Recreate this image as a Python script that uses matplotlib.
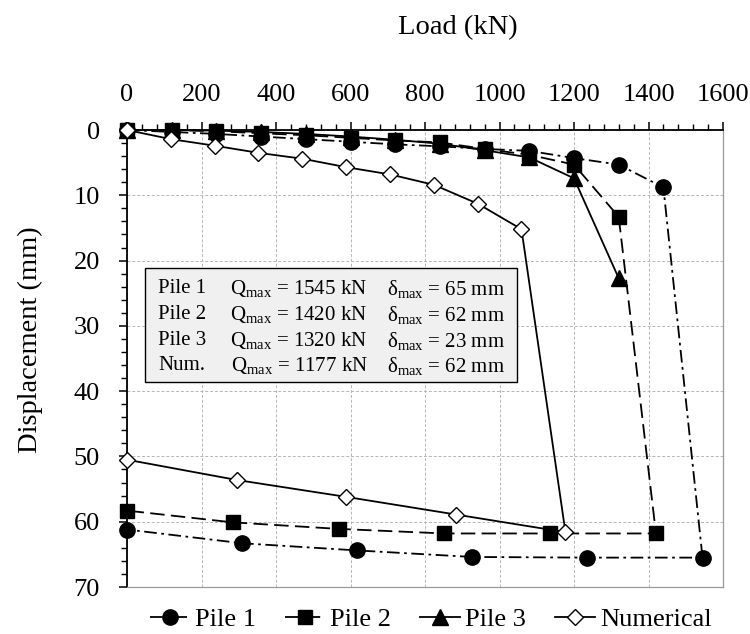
import numpy as np
import matplotlib
matplotlib.use("Agg")
import matplotlib.pyplot as plt
from matplotlib.ticker import MultipleLocator
from matplotlib.patches import Rectangle

plt.rcParams['font.family'] = ['Liberation Serif', 'DejaVu Serif']
plt.rcParams['mathtext.fontset'] = 'custom'
plt.rcParams['mathtext.rm'] = 'Liberation Serif'
plt.rcParams['mathtext.it'] = 'Liberation Serif:italic'

# load (kN) / displacement (mm)
pile1_load = [0, 120, 240, 360, 480, 600, 720, 840, 960, 1080, 1200, 1320, 1440, 1545,
              1236, 927, 618, 309, 0]
pile1_disp = [0, 0.3, 0.6, 1.0, 1.4, 1.8, 2.2, 2.5, 2.9, 3.2, 4.3, 5.3, 8.8, 65.5,
              65.5, 65.4, 64.4, 63.3, 61.2]

pile2_load = [0, 120, 240, 360, 480, 600, 720, 840, 960, 1080, 1200, 1320, 1420,
              1136, 852, 568, 284, 0]
pile2_disp = [0, 0, 0.2, 0.5, 0.8, 1.2, 1.6, 1.9, 2.9, 3.8, 5.3, 13.3, 61.8,
              61.8, 61.8, 61.1, 60.1, 58.3]

pile3_load = [0, 120, 240, 360, 480, 600, 720, 840, 960, 1080, 1200, 1320]
pile3_disp = [0, 0, 0.1, 0.3, 0.6, 1.0, 1.5, 2.1, 3.1, 4.2, 7.4, 22.7]

num_load = [0, 118, 235, 353, 471, 589, 706, 824, 942, 1059, 1177, 883, 589, 294, 0]
num_disp = [0, 1.4, 2.4, 3.5, 4.4, 5.7, 6.8, 8.4, 11.3, 15.2, 61.6, 58.9, 56.2, 53.6, 50.5]

box_names = ["Pile 1", "Pile 2", "Pile 3", "Num."]
box_qmax = [1545, 1420, 1320, 1177]
box_dmax = [65, 62, 23, 62]

fig = plt.figure(figsize=(7.5, 6.34), dpi=100)
ax = fig.add_axes([127 / 750, 1 - 587 / 634, 596 / 750, 457 / 634])

ax.plot(pile1_load, pile1_disp, color='black', lw=1.3, dashes=(7, 2.5, 1.5, 2.5),
        marker='o', ms=11, mfc='black', mec='black', clip_on=False, label='Pile 1', zorder=3)
ax.plot(pile2_load, pile2_disp, color='black', lw=1.3, dashes=(8, 3.5),
        marker='s', ms=10.5, mfc='black', mec='black', clip_on=False, label='Pile 2', zorder=3)
ax.plot(pile3_load, pile3_disp, color='black', lw=1.3, ls='-',
        marker='^', ms=11, mfc='black', mec='black', clip_on=False, label='Pile 3', zorder=3)
ax.plot(num_load, num_disp, color='black', lw=1.3, ls='-',
        marker='D', ms=8.3, mfc='white', mec='black', mew=1.0, clip_on=False,
        label='Numerical', zorder=4)

ax.set_xlim(0, 1600)
ax.set_ylim(70, 0)
ax.xaxis.tick_top()
ax.xaxis.set_major_locator(MultipleLocator(200))
ax.xaxis.set_minor_locator(MultipleLocator(40))
ax.yaxis.set_major_locator(MultipleLocator(10))
ax.yaxis.set_minor_locator(MultipleLocator(2))
ax.tick_params(which='major', direction='out', length=6, width=1.1, labelsize=19)
ax.tick_params(which='minor', direction='out', length=4.3, width=1.0)
ax.tick_params(axis='x', which='major', pad=11)
ax.tick_params(axis='y', which='major', pad=13.5)
ax.tick_params(axis='x', which='both', top=True, bottom=False)

ax.grid(True, which='major', color='#b5b5b5', ls=(0, (3, 2)), lw=0.7)
ax.set_axisbelow(True)
for s in ['top', 'left']:
    ax.spines[s].set_color('black')
    ax.spines[s].set_linewidth(1.3)
for s in ['bottom', 'right']:
    ax.spines[s].set_color('#9a9a9a')
    ax.spines[s].set_linewidth(0.9)

# summary box
ax.add_patch(Rectangle((48, 21.1), 1000, 17.5, facecolor='#f0f0f0', edgecolor='black',
                       lw=1.0, zorder=2))
rows_y = [24.3, 28.3, 32.3, 36.1]
for name, q, d, yy in zip(box_names, box_qmax, box_dmax, rows_y):
    ax.text(84, yy, name, fontsize=15, va='center', ha='left', zorder=5)
    ax.text(276 if name != "Num." else 280, yy, "Q$_{\\mathrm{max}}$ = %d kN" % q,
            fontsize=15, va='center', ha='left', zorder=5)
    ax.text(697, yy, "δ$_{\\mathrm{max}}$ = %d mm" % d, fontsize=15, va='center',
            ha='left', zorder=5)

fig.text(458 / 750, 1 - 28 / 634, "Load (kN)", fontsize=20.5, ha='center', va='center')
fig.text(30 / 750, 1 - 340 / 634, "Displacement (mm)", fontsize=20.5, ha='center',
         va='center', rotation=90)

handles, labels = ax.get_legend_handles_labels()
fig.legend(handles, labels, loc='center', bbox_to_anchor=(431 / 750, 1 - 619 / 634),
           ncol=4, frameon=False, fontsize=19, handlelength=1.5, handletextpad=0.2,
           columnspacing=1.1, borderaxespad=0, borderpad=0)

fig.savefig("out.png", dpi=100)
